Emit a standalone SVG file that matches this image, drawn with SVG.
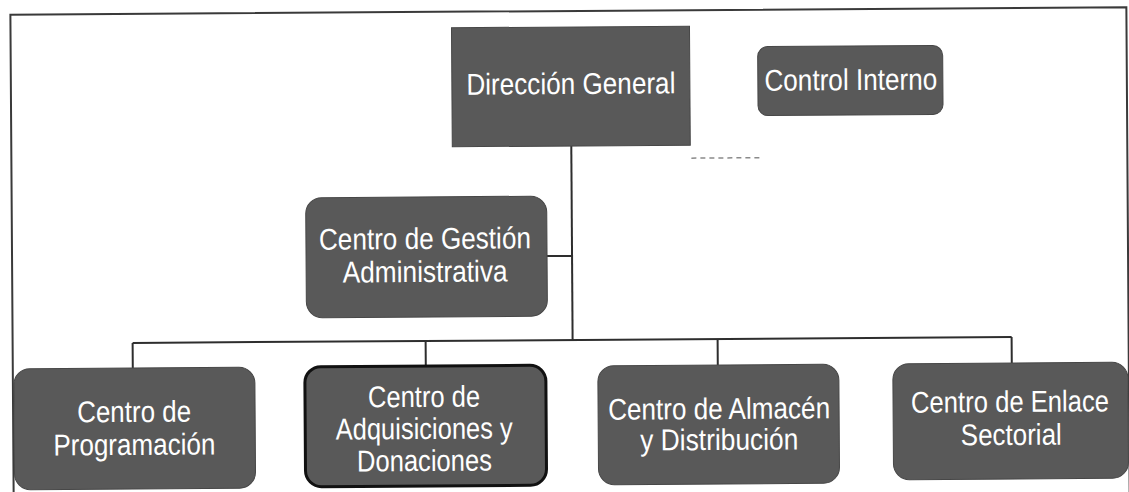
<svg xmlns="http://www.w3.org/2000/svg" width="1129" height="492" viewBox="0 0 1129 492">
<style>
.box{fill:#595959;stroke:#474747;stroke-width:1}
.strong{stroke:#111;stroke-width:3}
.lbl{font-family:"Liberation Sans",Arial,sans-serif;font-size:30px;fill:#ffffff;text-anchor:middle}
.ln{fill:none;stroke:#2e2e2e;stroke-width:2}
</style>
<rect width="1129" height="492" fill="#ffffff"/>
<g transform="rotate(-0.39 565 250)">
<path d="M12,520 V11 H1128 V520" fill="none" stroke="#3a3a3a" stroke-width="2"/>
<g id="connectors">
<path class="ln" d="M572,146 V340"/>
<path class="ln" d="M547,256 H572"/>
<path class="ln" d="M132,340 H1011"/>
<path class="ln" d="M132,340 V365 M425,340 V365 M717,340 V366 M1011,340 V366"/>
<path d="M692,159 H763" fill="none" stroke="#8a8a8a" stroke-width="1.5" stroke-dasharray="5 4"/>
</g>
<g id="direccion-general">
<rect class="box" x="453" y="27" width="238" height="119"/>
<text class="lbl" x="572" y="94" textLength="209" lengthAdjust="spacingAndGlyphs">Dirección General</text>
</g>
<g id="control-interno">
<rect class="box" x="759" y="48" width="185" height="69" rx="10"/>
<text class="lbl" x="852" y="92" textLength="173" lengthAdjust="spacingAndGlyphs">Control Interno</text>
</g>
<g id="gestion-administrativa">
<rect class="box" x="306" y="196" width="241" height="120" rx="16"/>
<text class="lbl" x="425" y="248" textLength="212" lengthAdjust="spacingAndGlyphs">Centro de Gestión</text>
<text class="lbl" x="425" y="281" textLength="165" lengthAdjust="spacingAndGlyphs">Administrativa</text>
</g>
<g id="programacion">
<rect class="box" x="13" y="365" width="241" height="121" rx="16"/>
<text class="lbl" x="133" y="419" textLength="114" lengthAdjust="spacingAndGlyphs">Centro de</text>
<text class="lbl" x="133" y="452" textLength="162" lengthAdjust="spacingAndGlyphs">Programación</text>
</g>
<g id="adquisiciones-donaciones">
<rect class="box strong" x="304" y="365" width="241" height="120" rx="16"/>
<text class="lbl" x="423" y="406" textLength="112" lengthAdjust="spacingAndGlyphs">Centro de</text>
<text class="lbl" x="423" y="438" textLength="177" lengthAdjust="spacingAndGlyphs">Adquisiciones y</text>
<text class="lbl" x="423" y="470" textLength="135" lengthAdjust="spacingAndGlyphs">Donaciones</text>
</g>
<g id="almacen-distribucion">
<rect class="box" x="597" y="366" width="241" height="119" rx="16"/>
<text class="lbl" x="718" y="420" textLength="222" lengthAdjust="spacingAndGlyphs">Centro de Almacén</text>
<text class="lbl" x="718" y="451" textLength="158" lengthAdjust="spacingAndGlyphs">y Distribución</text>
</g>
<g id="enlace-sectorial">
<rect class="box" x="892" y="366" width="235" height="116" rx="16"/>
<text class="lbl" x="1009" y="415" textLength="198" lengthAdjust="spacingAndGlyphs">Centro de Enlace</text>
<text class="lbl" x="1010" y="448" textLength="101" lengthAdjust="spacingAndGlyphs">Sectorial</text>
</g>
</g>
</svg>
